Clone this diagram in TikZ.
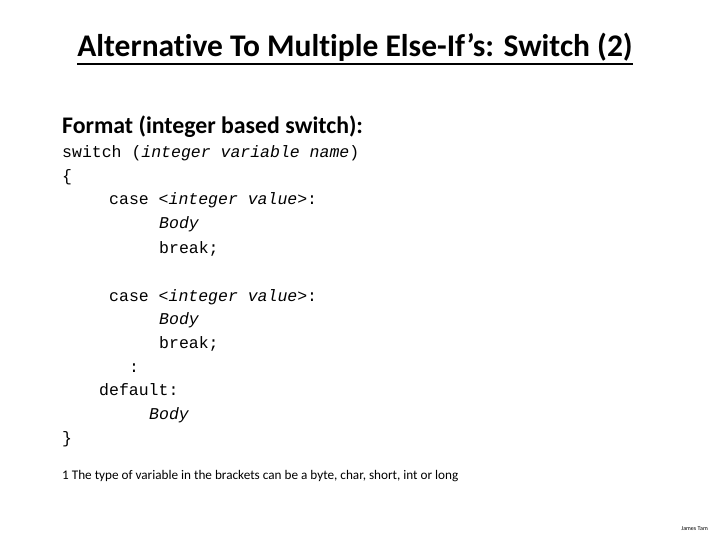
\documentclass[tikz,border=0pt]{standalone}
\usepackage{fontspec}
\setmainfont[Ligatures=NoCommon]{Carlito}
\newfontfamily\codefont{Liberation Mono}
\begin{document}
\begin{tikzpicture}[x=1pt,y=-1pt,
  code/.style={anchor=base west,inner sep=0pt,font=\codefont\fontsize{16.5}{18}\selectfont},
  txt/.style={anchor=base west,inner sep=0pt}]
\useasboundingbox (0,0) rectangle (720,540);
\node[anchor=base,inner sep=0pt,font=\bfseries\fontsize{31.5}{34}\selectfont] (title) at (355,57) {Alternative To Multiple Else-If’s: Switch (2)};
\draw[line width=1.4pt] (title.south west)++(0,2) coordinate (u1) -- (title.south east|-u1);
\node[txt,font=\bfseries\fontsize{23.8}{26}\selectfont] (fmt) at (62,134) {Format (integer based switch):};
\node[code] (l1) at (62,158) {switch ({\itshape integer variable name})};
\node[code] (l2) at (62,182) {\{};
\node[code] (l3) at (109,205) {case <{\itshape integer value}>:};
\node[code] (l4) at (159,229) {\itshape Body};
\node[code] (l5) at (159,253) {break;};
\node[code] (l6) at (109,301) {case <{\itshape integer value}>:};
\node[code] (l7) at (159,324) {\itshape Body};
\node[code] (l8) at (159,348) {break;};
\node[code] (l9) at (129,372) {:};
\node[code] (l10) at (99,395) {default:};
\node[code] (l11) at (149,419) {\itshape Body};
\node[code] (l12) at (62,443) {\}};
\node[txt,font=\fontsize{13.2}{15}\selectfont] (fn) at (62,479) {1 The type of variable in the brackets can be a byte, char, short, int or long};
\node[anchor=base east,inner sep=0pt,font=\fontsize{6}{7}\selectfont] (jt) at (708,530) {James Tam};
\end{tikzpicture}
\end{document}
